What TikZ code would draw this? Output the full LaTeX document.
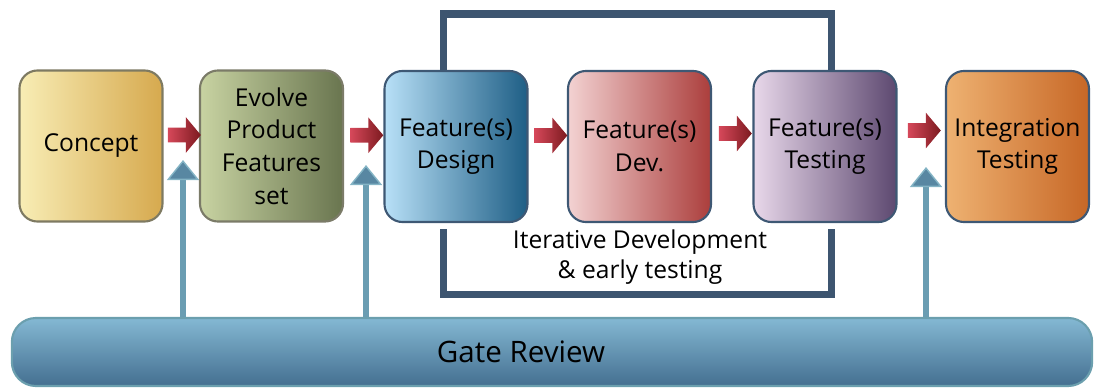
\documentclass[tikz,border=0pt]{standalone}
\usepackage{fontspec}
\setmainfont{Open Sans}
\usetikzlibrary{arrows.meta,positioning,calc,shapes.arrows}

\definecolor{cA}{HTML}{F8EDB5}\definecolor{cB}{HTML}{D6A94E}\definecolor{cE}{HTML}{7E7A62}
\definecolor{eA}{HTML}{C8D3A2}\definecolor{eB}{HTML}{69754F}\definecolor{eE}{HTML}{7B7B68}
\definecolor{dA}{HTML}{B8E0F7}\definecolor{dB}{HTML}{1E5E85}
\definecolor{vA}{HTML}{F3D2D2}\definecolor{vB}{HTML}{AB3E3C}
\definecolor{tA}{HTML}{E8D8EA}\definecolor{tB}{HTML}{5D4870}
\definecolor{iA}{HTML}{EEB272}\definecolor{iB}{HTML}{C76726}
\definecolor{bxE}{HTML}{3E5874}
\definecolor{gA}{HTML}{84B8D3}\definecolor{gB}{HTML}{446F90}\definecolor{gE}{HTML}{6B9FAE}
\definecolor{rdA}{HTML}{D6485A}\definecolor{rdB}{HTML}{7C1A1F}
\definecolor{upC}{HTML}{6A9DB2}\definecolor{upH}{HTML}{5887A2}\definecolor{upE}{HTML}{84B4C5}
\definecolor{loopC}{HTML}{3D5570}

\begin{document}
\begin{tikzpicture}[x=0.025cm,y=-0.025cm,
   bx/.style={draw=bxE,rounded corners=0.45cm,line width=1.5pt,minimum width=3.575cm,
     minimum height=3.775cm,align=center,font=\fontsize{17.5}{23.2}\selectfont},
   rarr/.style={single arrow,single arrow head extend=0.2625cm,single arrow tip angle=100,
     inner xsep=0pt,inner ysep=0.175cm,minimum height=0.825cm,left color=rdA,right color=rdB},
   uarr/.style={line width=0.15cm,draw=upC,
     -{Triangle[width=0.8cm,length=0.5cm,fill=upH,color=upE,line width=1pt]}},
   loopln/.style={line width=0.175cm,draw=loopC}]
  \useasboundingbox (0,0) rectangle (1097,388);
  \node[bx,draw=cE,left color=cA,right color=cB] (n1) at (91,146)    {Concept};
  \node[bx,draw=eE,left color=eA,right color=eB] (n2) at (271.5,146) {Evolve\\Product\\Features\\set};
  \node[bx,left color=dA,right color=dB] (n3) at (456,146.5)  {Feature(s)\\Design};
  \node[bx,left color=vA,right color=vB] (n4) at (639.5,146.5) {Feature(s)\\Dev.};
  \node[bx,left color=tA,right color=tB] (n5) at (825,146.5)  {Feature(s)\\Testing};
  \node[bx,left color=iA,right color=iB] (n6) at (1017.5,146.5) {Integration\\Testing};
  \node[rarr] (a1) at ($(n1.east)!0.5!(n2.west)+(0,-11)$) {};
  \node[rarr] (a2) at ($(n2.east)!0.5!(n3.west)+(0,-11)$) {};
  \node[rarr] (a3) at ($(n3.east)!0.5!(n4.west)+(0,-11)$) {};
  \node[rarr] (a4) at ($(n4.east)!0.5!(n5.west)+(0,-13)$) {};
  \node[rarr] (a5) at ($(n5.east)!0.5!(n6.west)+(0,-16)$) {};
  \coordinate (lt) at (443,14);
  \coordinate (rt) at (831,14);
  \coordinate (lb) at (443,294);
  \coordinate (rb) at (831,294);
  \draw[loopln] (n3.north -| lt) -- (lt) -- (rt) -- (n5.north -| rt);
  \draw[loopln] ($(n3.south -| lb)+(0,6)$) -- (lb) -- (rb) -- ($(n5.south -| rb)+(0,6)$);
  \node[align=center,font=\fontsize{17.5}{21.3}\selectfont] (it) at (640,257)
    {Iterative Development\\\& early testing};
  \node[draw=gE,line width=1.5pt,rounded corners=0.6cm,top color=gA,bottom color=gB,
    minimum width=27cm,minimum height=1.7cm] (gr) at (552,352) {};
  \node[font=\fontsize{21}{25}\selectfont] (grt) at (521,352) {Gate Review};
  \coordinate (g1) at (183,160);
  \coordinate (g2) at (366,165);
  \coordinate (g3) at (926,167);
  \draw[uarr] (g1 |- gr.north) -- (g1);
  \draw[uarr] (g2 |- gr.north) -- (g2);
  \draw[uarr] (g3 |- gr.north) -- (g3);
\end{tikzpicture}
\end{document}
